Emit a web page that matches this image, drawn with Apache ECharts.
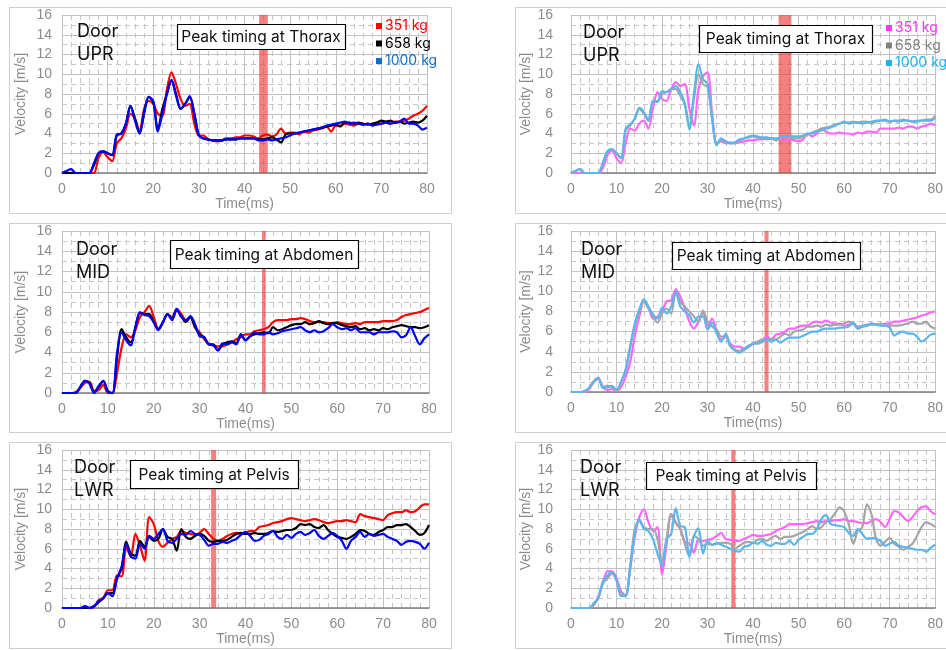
<!DOCTYPE html>
<html>
<head>
<meta charset="utf-8">
<script src="https://cdn.jsdelivr.net/npm/echarts@6/dist/echarts.min.js"></script>
<style>
  html, body { margin: 0; background: #fff; }
  #chart { width: 946px; height: 650px; }
</style>
</head>
<body>
<div id="chart"></div>
<script>
// time axis (ms)
var time = [0,1,2,3,4,5,6,7,8,9,10,11,12,13,14,15,16,17,18,19,20,21,22,23,24,25,26,27,28,29,30,
  31,32,33,34,35,36,37,38,39,40,41,42,43,44,45,46,47,48,49,50,51,52,53,54,55,56,57,58,59,60,
  61,62,63,64,65,66,67,68,69,70,71,72,73,74,75,76,77,78,79,80]

var massLabels = ['351 kg', '658 kg', '1000 kg']

// Door UPR - left (351 / 658 / 1000 kg)
var uprL351 = [0,0,0,0,0,0,0,0,1.5,2.1,1.6,1.2,3.0,3.5,4.5,6.0,5.5,4.2,6.5,7.3,7.0,6.0,5.8,8.5,10.2,9.0,7.5,6.8,7.0,5.0,
  3.8,3.8,3.4,3.3,3.2,3.3,3.5,3.5,3.6,3.6,3.8,3.8,3.7,3.5,3.8,3.9,3.7,3.9,4.5,4.0,
  4.1,4.1,3.9,4.2,4.1,4.3,4.4,4.5,4.7,4.2,4.8,4.8,5.0,4.9,4.8,5.0,4.9,5.0,4.9,5.0,
  5.0,5.1,5.0,5.2,5.2,5.3,5.5,5.8,6.0,6.3,6.8]
var uprL658 = [0,0,0,0,0,0,0,0.8,2.0,2.2,2.0,1.8,3.8,4.0,5.0,6.8,5.5,4.0,6.0,7.7,7.2,4.4,6.5,8.0,9.4,8.0,6.5,7.0,7.7,6.0,
  3.8,3.5,3.4,3.3,3.3,3.3,3.4,3.4,3.4,3.5,3.5,3.5,3.5,3.4,3.4,3.5,3.6,3.4,3.1,3.9,
  4.0,4.0,4.1,4.2,4.3,4.4,4.5,4.6,4.7,4.8,4.9,4.7,5.1,5.1,5.0,5.1,5.0,4.9,5.0,5.1,
  5.3,5.2,5.3,5.1,5.2,5.0,5.1,5.2,5.1,5.3,5.8]
var uprL1000 = [0,0.2,0.4,0,0,0,0,1.0,2.0,2.2,2.0,1.8,3.9,4.0,5.0,6.8,5.3,4.0,6.2,7.7,7.3,4.2,6.0,8.0,9.4,7.8,6.5,7.0,7.8,6.0,
  3.8,3.5,3.4,3.3,3.3,3.3,3.4,3.4,3.4,3.5,3.5,3.5,3.5,3.3,3.3,3.4,3.3,3.4,3.5,3.6,
  3.8,4.0,4.1,4.2,4.3,4.4,4.5,4.6,4.8,4.9,5.0,5.1,5.2,5.0,5.1,5.0,4.9,5.0,4.8,4.9,
  5.0,5.1,5.0,5.1,5.2,5.5,5.0,5.0,4.8,4.4,4.6]

// Door UPR - right
var uprR351 = [0,0,0,0,0,0,0,0.5,1.8,2.3,1.5,1.0,3.0,4.5,4.3,5.0,5.3,4.5,6.5,8.2,7.5,7.3,8.5,9.2,8.8,9.0,6.5,4.8,8.5,9.8,
  10.2,6.0,3.0,3.2,3.0,3.1,3.0,3.1,3.2,3.3,3.3,3.4,3.4,3.5,3.5,3.4,3.5,3.3,3.4,3.3,
  3.2,3.4,4.0,3.7,4.0,4.5,4.2,4.0,4.0,4.1,4.0,4.0,3.9,4.1,4.0,4.2,4.2,4.1,4.5,4.5,
  4.5,4.5,4.6,4.5,4.7,4.7,4.5,4.7,4.8,5.0,4.8]
var uprR658 = [0,0.2,0.4,0,0,0,0,1.0,2.2,2.4,2.0,1.5,4.3,4.8,5.5,6.5,6.0,5.3,7.3,7.3,8.0,8.2,8.5,8.5,7.8,7.0,4.8,7.5,10.0,9.0,
  8.7,5.5,3.0,3.3,3.2,3.0,3.1,3.3,3.5,3.6,3.7,3.6,3.5,3.4,3.5,3.3,3.6,3.7,3.6,3.5,
  3.5,3.7,3.9,4.1,4.3,4.5,4.6,4.7,4.9,5.0,5.1,5.1,5.2,5.1,5.2,5.2,5.0,5.2,5.3,5.3,
  5.2,5.3,5.3,5.4,5.3,5.2,5.3,5.3,5.4,5.4,5.8]
var uprR1000 = [0,0.2,0.4,0,0,0,0,1.0,2.2,2.4,2.0,1.5,4.5,4.9,5.5,6.6,6.2,5.3,7.3,7.2,8.3,8.2,8.5,8.8,8.2,7.0,4.4,8.0,11.0,9.5,
  9.0,5.5,2.8,3.5,3.2,3.0,3.1,3.4,3.5,3.7,3.8,3.7,3.6,3.6,3.5,3.5,3.6,3.7,3.8,3.7,
  3.7,3.8,4.0,4.0,4.2,4.3,4.5,4.6,4.8,5.0,5.2,5.0,5.1,5.1,5.0,5.1,5.2,5.3,5.3,5.4,
  5.2,5.3,5.2,5.3,5.3,5.2,5.2,5.3,5.3,5.3,5.6]

// Door MID - left
var midL351 = [0,0,0,0.1,0.5,1.0,1.1,0.2,0.3,0.8,0,0,2.0,4.5,5.8,5.5,6.2,7.5,8.0,8.6,7.5,6.3,7.0,7.8,7.5,8.3,7.8,7.2,7.5,6.5,
  6.0,5.3,4.8,4.7,4.6,4.6,4.8,5.0,5.3,5.5,5.8,5.8,6.1,6.2,6.3,6.5,7.0,7.2,7.2,7.2,
  7.3,7.3,7.4,7.3,7.1,7.0,7.0,7.0,6.9,6.9,7.0,6.9,6.8,6.8,6.9,6.8,7.0,7.0,7.0,7.0,
  7.1,7.1,7.1,7.2,7.5,7.7,7.8,7.9,8.0,8.2,8.4]
var midL658 = [0,0,0,0,0.6,1.2,1.0,0.1,0.6,1.2,0.2,0,3.5,6.3,5.5,5.0,6.5,7.9,7.8,7.8,7.0,6.3,7.0,7.8,7.3,8.2,7.6,7.0,7.5,6.5,
  5.8,5.5,4.8,4.8,4.2,4.8,5.0,5.1,4.9,5.8,5.2,5.6,5.8,5.9,6.0,5.9,6.5,6.2,6.3,6.5,
  6.7,6.8,6.8,7.0,6.8,6.9,7.1,6.9,6.8,6.9,6.9,6.7,6.6,6.5,6.6,6.3,6.4,6.2,6.3,6.2,
  6.4,6.3,6.5,6.6,6.7,6.6,6.5,6.5,6.4,6.5,6.7]
var midL1000 = [0,0,0,0,0.6,1.2,0.9,0,0.7,1.2,0.1,0,4.0,6.0,5.2,4.7,6.5,8.0,7.7,7.6,7.0,6.2,7.0,7.8,7.2,8.3,7.5,7.2,7.6,6.8,
  5.6,5.5,4.8,4.7,4.2,4.9,4.8,5.0,4.8,5.8,5.2,5.6,6.0,5.8,5.8,6.0,5.8,5.9,6.1,6.2,
  6.3,6.4,6.5,6.2,6.0,6.2,6.0,6.1,6.4,6.8,6.5,6.3,6.4,6.2,6.4,6.0,6.0,6.0,5.8,6.0,
  6.0,6.0,6.1,6.0,5.5,5.7,6.5,5.6,4.8,5.4,5.8]

// Door MID - right
var midR351 = [0,0,0,0,0.3,1.0,1.3,0.5,0.2,0.3,0.1,0.5,1.5,3.0,5.5,7.5,9.0,8.5,7.3,7.5,8.0,9.0,9.1,10.2,9.5,8.3,7.0,6.3,7.0,7.9,
  6.5,7.3,6.0,5.2,5.5,4.8,4.5,4.5,4.3,4.5,4.8,5.0,5.2,5.5,5.2,5.7,5.8,6.0,6.3,6.3,
  6.5,6.6,6.6,6.9,7.0,6.9,7.1,6.9,6.8,6.8,6.6,6.7,6.8,6.3,6.5,6.6,6.8,6.7,6.7,6.8,
  6.8,7.0,7.0,7.1,7.2,7.3,7.4,7.6,7.7,7.9,8.0]
var midR658 = [0,0,0,0.1,0.4,1.1,1.4,0.5,0.6,0.5,0.1,1.0,2.2,4.5,6.5,8.0,9.0,8.3,7.5,6.9,7.8,8.3,7.8,10.0,9.0,8.5,8.0,7.5,7.0,8.1,
  7.0,6.5,6.2,5.5,5.5,4.5,4.2,4.1,4.3,4.6,4.8,5.0,5.2,5.2,5.3,5.2,5.5,5.8,5.6,6.0,
  6.1,6.2,6.5,6.5,6.6,6.5,6.7,6.6,6.7,6.7,6.8,7.0,6.8,6.5,6.6,6.7,6.7,6.7,6.8,6.6,
  6.6,6.6,6.6,6.7,6.8,7.0,6.8,6.8,7.0,6.5,6.3]
var midR1000 = [0,0,0,0.1,0.4,1.0,1.4,0.4,0.5,0.6,0.2,1.0,2.2,4.5,6.8,8.2,9.2,8.5,7.7,7.3,8.4,7.8,8.5,9.9,8.5,8.0,7.6,6.9,7.5,7.5,
  6.2,6.9,5.8,5.0,5.8,4.6,4.1,3.9,4.2,4.5,4.8,4.8,5.0,5.2,5.0,5.2,4.9,5.2,5.4,5.4,
  5.4,5.6,5.8,6.0,6.0,6.2,6.3,6.3,6.3,6.4,6.4,6.5,6.9,6.3,6.5,6.6,6.8,6.7,6.6,6.6,
  6.4,5.6,5.9,6.0,5.8,5.8,5.5,5.0,5.3,5.7,5.8]

// Door LWR - left
var lwrL351 = [0,0,0,0,0,0,0,0.1,0.8,1.0,1.8,1.8,3.3,3.2,6.2,5.2,7.5,6.3,4.8,9.2,8.5,6.8,6.2,6.6,7.0,7.2,7.8,7.6,7.5,7.4,
  7.6,8.0,7.5,7.0,6.8,7.0,7.3,7.5,7.6,7.5,7.6,7.8,7.8,8.2,8.3,8.4,8.6,8.7,8.8,9.0,
  9.1,9.0,8.9,8.8,8.9,9.0,8.9,8.7,8.6,8.7,8.8,8.8,8.9,8.8,8.7,9.5,9.3,9.2,9.1,9.0,
  8.9,9.4,9.6,9.7,9.7,9.9,9.7,9.8,10.2,10.5,10.5]
var lwrL658 = [0,0,0,0,0,0,0,0.2,0.6,1.0,1.5,1.5,3.0,4.0,6.7,5.5,5.3,6.8,6.2,7.2,6.8,7.0,8.0,7.2,7.0,5.8,8.0,7.2,7.0,7.3,
  7.5,7.3,6.8,6.7,6.8,6.8,6.9,7.2,7.5,7.6,7.5,7.5,7.6,7.5,7.5,7.6,7.8,7.7,7.8,7.9,
  7.9,8.1,8.5,8.4,8.5,8.2,8.1,8.4,7.9,7.5,7.2,7.1,7.0,7.2,7.5,7.9,7.8,7.5,7.4,7.7,
  7.9,8.2,8.2,8.4,8.4,8.5,8.2,7.8,7.4,7.6,8.4]
var lwrL1000 = [0,0,0,0,0,0.2,0,0.2,0.7,1.0,1.5,1.2,3.0,4.2,6.5,5.2,5.0,6.5,6.0,7.3,7.0,7.5,8.0,6.8,6.6,7.0,7.5,7.4,7.8,7.5,
  7.4,6.9,6.3,6.5,6.5,6.7,6.6,6.8,7.0,7.4,7.7,7.3,6.8,6.9,7.3,7.5,7.8,7.2,7.0,7.4,
  7.1,7.5,7.7,7.4,7.6,7.9,7.3,7.0,7.3,7.6,7.3,6.8,6.0,6.8,7.2,7.7,7.2,7.5,7.3,7.4,
  7.5,7.2,7.0,6.8,6.4,6.7,6.8,6.7,6.5,6.0,6.6]

// Door LWR - right
var lwrR351 = [0,0,0,0,0,0.3,1.2,2.5,3.7,3.7,3.0,1.7,1.3,4.0,7.2,9.2,10.0,8.7,7.8,8.2,3.4,6.5,9.5,8.6,8.0,6.7,6.5,5.6,7.0,6.8,
  6.9,7.0,7.3,7.6,7.0,6.9,6.8,6.8,7.0,7.2,7.4,7.3,7.3,7.4,7.5,7.8,8.0,8.2,8.5,8.5,
  8.5,8.5,8.6,8.7,8.8,8.7,8.8,8.8,8.9,8.9,9.0,8.8,8.8,8.7,8.6,8.6,8.8,9.0,8.7,8.2,
  9.0,9.8,9.7,9.2,8.8,9.2,9.8,10.2,10.3,9.8,9.5]
var lwrR658 = [0,0,0,0,0,0.3,1.0,2.5,3.0,3.5,2.8,1.5,1.3,4.3,8.0,8.8,8.2,8.0,8.0,7.0,4.5,7.0,9.5,8.7,8.0,6.5,5.2,7.3,7.0,6.3,
  6.5,6.4,6.5,6.6,6.6,6.5,6.0,6.3,6.6,6.7,6.6,6.9,7.0,6.8,7.1,7.3,7.0,7.2,7.2,7.3,
  7.5,7.7,8.0,8.3,8.0,8.2,8.7,9.0,9.6,10.2,9.8,8.5,6.5,7.8,8.2,10.5,9.5,7.0,6.3,6.7,
  7.1,6.5,6.2,5.9,6.2,6.5,7.3,8.2,8.7,8.5,8.2]
var lwrR1000 = [0,0,0,0,0,0.5,1.0,2.7,3.3,3.6,2.8,1.2,1.2,4.0,7.5,9.0,8.0,7.8,7.0,5.5,4.3,7.0,7.5,10.1,8.3,8.2,5.2,7.3,8.1,5.5,
  6.8,6.4,6.6,6.4,6.2,6.0,5.8,5.7,6.2,6.3,6.6,6.5,6.8,6.4,6.3,6.6,6.5,6.5,6.8,6.4,
  6.9,7.2,7.5,7.5,8.0,9.0,9.4,8.5,8.4,8.3,8.2,7.6,7.3,8.0,7.5,7.0,7.1,7.0,6.8,6.3,
  6.5,6.7,6.3,6.2,6.1,6.0,5.9,5.9,5.7,6.1,6.4]

// peak timing bands [from, to] in ms
var peakBands = [[43.2, 45.1], [45.6, 48.4], [43.6, 44.4], [42.5, 43.4], [32.5, 33.6], [35.2, 36.1]]
var peakTitles = ['Peak timing at Thorax', 'Peak timing at Thorax', 'Peak timing at Abdomen',
  'Peak timing at Abdomen', 'Peak timing at Pelvis', 'Peak timing at Pelvis']
var doorPos = ['UPR', 'UPR', 'MID', 'MID', 'LWR', 'LWR']

var lineColorsL = ['#ff0000', '#000000', '#0000ff']
var lineColorsR = ['#ff66ff', '#a6a6a6', '#5bb6ee']
var legendColorsL = ['#ff0000', '#000000', '#0a6ecd']
var legendColorsR = ['#ff33ff', '#808080', '#1fb0f0']

var panelData = [
  [uprL351, uprL658, uprL1000], [uprR351, uprR658, uprR1000],
  [midL351, midL658, midL1000], [midR351, midR658, midR1000],
  [lwrL351, lwrL658, lwrL1000], [lwrR351, lwrR658, lwrR1000]
]

// layout of each panel (pixels)
var layout = [
  { grid: [62, 15, 365, 158], box: [9, 7, 442, 206], note: [177, 24, 168, 25], door: [77, 32], legend: [376, 26] },
  { grid: [571, 15, 365, 158], box: [515, 7, 440, 206], note: [699, 25, 173, 27], door: [583, 33] , legend: [886, 28] },
  { grid: [62, 231, 367, 162], box: [9, 223, 442, 209], note: [170, 240, 188, 28], door: [76, 250] },
  { grid: [571, 231, 365, 161], box: [515, 223, 440, 209], note: [672, 242, 188, 27], door: [581, 250] },
  { grid: [62, 450, 367, 158], box: [9, 442, 442, 206], note: [130, 460, 168, 28], door: [74, 468] },
  { grid: [571, 450, 365, 158], box: [515, 442, 440, 206], note: [646, 462, 170, 27], door: [580, 468] }
]

var labelFont = 'Liberation Sans'
var textFont = 'Inter'

var chart = echarts.init(document.getElementById('chart'))

var grids = [], xAxes = [], yAxes = [], series = [], graphics = []

layout.forEach(function (p, i) {
  var right = i % 2 === 1
  grids.push({ left: p.grid[0], top: p.grid[1], width: p.grid[2], height: p.grid[3] })
  xAxes.push({
    gridIndex: i, type: 'value', min: 0, max: 80, interval: 10,
    name: 'Time(ms)', nameLocation: 'middle', nameGap: 22,
    nameTextStyle: { color: '#8c8c8c', fontSize: 14, fontFamily: labelFont },
    axisLine: { show: true, onZero: false, lineStyle: { color: '#7f7f7f', width: 1.5 } },
    axisTick: { show: false },
    axisLabel: { color: '#8c8c8c', fontSize: 14, fontFamily: labelFont, margin: 9 },
    splitLine: { show: true, lineStyle: { color: '#c2c2c2', width: 1 } },
    minorTick: { show: false, splitNumber: 5 },
    minorSplitLine: { show: true, lineStyle: { color: '#c6c6c6', width: 1, type: [5, 4] } }
  })
  yAxes.push({
    gridIndex: i, type: 'value', min: 0, max: 16, interval: 2,
    name: 'Velocity [m/s]', nameLocation: 'middle', nameGap: right ? 37 : 34,
    nameTextStyle: { color: '#8c8c8c', fontSize: 14, fontFamily: labelFont },
    axisLine: { show: false },
    axisTick: { show: false },
    axisLabel: { color: '#8c8c8c', fontSize: 14, fontFamily: labelFont, margin: right ? 18 : 10 },
    splitLine: { show: true, lineStyle: { color: '#c2c2c2', width: 1 } },
    minorTick: { show: false, splitNumber: 2 },
    minorSplitLine: { show: true, lineStyle: { color: '#c6c6c6', width: 1, type: [5, 4] } }
  })

  var colors = right ? lineColorsR : lineColorsL
  panelData[i].forEach(function (arr, k) {
    series.push({
      name: massLabels[k],
      type: 'line',
      xAxisIndex: i, yAxisIndex: i,
      symbol: 'none', smooth: 0.3,
      lineStyle: { color: colors[k], width: 2.2 },
      itemStyle: { color: colors[k] },
      data: time.map(function (t, j) { return [t, arr[j]] })
    })
  })
  series.push({
    type: 'line', xAxisIndex: i, yAxisIndex: i, data: [], z: 4,
    markArea: {
      silent: true,
      itemStyle: { color: 'rgba(240,60,60,0.65)' },
      data: [[{ xAxis: peakBands[i][0] }, { xAxis: peakBands[i][1] }]]
    }
  })

  // panel border
  graphics.push({
    type: 'rect', z: 0, silent: true,
    shape: { x: p.box[0] + 0.5, y: p.box[1] + 0.5, width: p.box[2], height: p.box[3] },
    style: { fill: 'none', stroke: '#cfcfcf', lineWidth: 1 }
  })
  // peak timing note
  graphics.push({
    type: 'rect', z: 20, silent: true,
    shape: { x: p.note[0] + 0.5, y: p.note[1] + 0.5, width: p.note[2], height: p.note[3] },
    style: { fill: '#fff', stroke: '#000', lineWidth: 1.2 }
  })
  graphics.push({
    type: 'text', z: 21, silent: true,
    x: p.note[0] + p.note[2] / 2, y: p.note[1] + p.note[3] / 2 + 1,
    style: { text: peakTitles[i], fill: '#111', font: '15.5px ' + textFont, align: 'center', verticalAlign: 'middle' }
  })
  // Door label (two lines, first line centred at door[1])
  graphics.push({
    type: 'text', z: 21, silent: true,
    x: p.door[0], y: p.door[1] - 11.5,
    style: { text: 'Door\n' + doorPos[i], fill: '#111', font: '18px ' + textFont, lineHeight: 23, verticalAlign: 'top' }
  })
  // legend
  if (p.legend) {
    var lc = right ? legendColorsR : legendColorsL
    massLabels.forEach(function (m, k) {
      var yy = p.legend[1] + k * 17.5
      graphics.push({
        type: 'rect', z: 21, silent: true,
        shape: { x: p.legend[0], y: yy - 3, width: 6, height: 6 },
        style: { fill: lc[k] }
      })
      graphics.push({
        type: 'text', z: 21, silent: true,
        x: p.legend[0] + 9, y: yy,
        style: { text: m, fill: lc[k], font: '14px ' + textFont, verticalAlign: 'middle' }
      })
    })
  }
})

chart.setOption({
  backgroundColor: '#fff',
  animation: false,
  grid: grids,
  xAxis: xAxes,
  yAxis: yAxes,
  series: series,
  graphic: graphics
})
</script>
</body>
</html>
